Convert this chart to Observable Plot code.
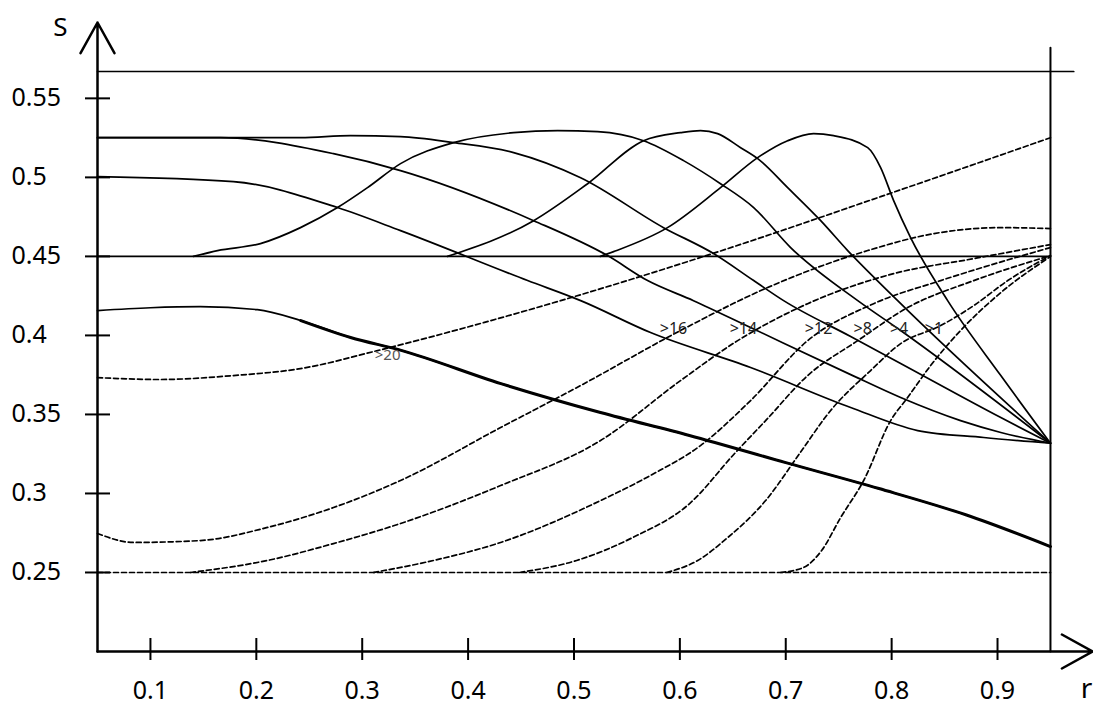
<!DOCTYPE html>
<html><head><meta charset="utf-8">
<script src="https://cdn.jsdelivr.net/npm/d3@7"></script>
<script src="https://cdn.jsdelivr.net/npm/@observablehq/plot@0.6"></script>
<style>html,body{margin:0;padding:0;background:#fff;overflow:hidden} svg{display:block}</style>
</head><body><div id="chart"></div>
<script>
// ---- axes / ticks ----
const xTicks = [0.1, 0.2, 0.3, 0.4, 0.5, 0.6, 0.7, 0.8, 0.9];
const xTickLabels = ["0.1","0.2","0.3","0.4","0.5","0.6","0.7","0.8","0.9"];
const yTicks = [0.25, 0.3, 0.35, 0.4, 0.45, 0.5, 0.55];
const yTickLabels = ["0.25","0.3","0.35","0.4","0.45","0.5","0.55"];
const xMin = 0.05, xMax = 0.9897;
const yMin = 0.2, yMax = 0.598;

// ---- solid curves ----
const topLine  = [[0.05,0.567],[0.972,0.567]];
const line045  = [[0.05,0.45],[0.95,0.45]];
const thickLine = [[0.05,0.4157],[0.10,0.4175],[0.147,0.4182],[0.201,0.4163],[0.242,0.4094],[0.289,0.3987],[0.336,0.3907],[0.431,0.3695],[0.525,0.3512],[0.609,0.3367],[0.70,0.3195],[0.788,0.3031],[0.87,0.2865],[0.95,0.2664]];
const curve050 = [[0.05,0.5005],[0.1784,0.4973],[0.2767,0.4809],[0.3362,0.4663],[0.4562,0.4347],[0.5063,0.4220],[0.5723,0.4018],[0.6668,0.3797],[0.7613,0.3544],[0.8246,0.3398],[0.887,0.3354],[0.95,0.3318]];
const curve0525a = [[0.05,0.5251],[0.1661,0.5251],[0.2729,0.5150],[0.3362,0.5043],[0.4619,0.4726],[0.5317,0.4505],[0.5695,0.4347],[0.6129,0.4220],[0.6668,0.4050],[0.7613,0.3752],[0.8085,0.3607],[0.8651,0.3461],[0.9031,0.3386],[0.95,0.3318]];
const curve0525b = [[0.05,0.5251],[0.2417,0.5251],[0.2889,0.5264],[0.3362,0.5258],[0.3863,0.5220],[0.4430,0.5157],[0.5063,0.4998],[0.5846,0.4682],[0.6318,0.4518],[0.6697,0.4347],[0.6980,0.4220],[0.7613,0.3993],[0.8085,0.3822],[0.9031,0.3480],[0.95,0.3318]];
const hump1 = [[0.1406,0.45],[0.1633,0.4537],[0.2039,0.4581],[0.2417,0.4682],[0.2767,0.4809],[0.3050,0.4935],[0.3362,0.5087],[0.3863,0.5220],[0.4430,0.5283],[0.4845,0.5296],[0.5223,0.5289],[0.5657,0.5232],[0.6035,0.5106],[0.6384,0.4960],[0.6697,0.4809],[0.7046,0.4556],[0.7680,0.4220],[0.8085,0.4031],[0.95,0.3318]];
const hump2 = [[0.3806,0.45],[0.4619,0.4726],[0.5129,0.4960],[0.5657,0.5232],[0.6006,0.5283],[0.6195,0.5296],[0.6356,0.5277],[0.6574,0.5188],[0.6735,0.5119],[0.7018,0.4935],[0.7330,0.4726],[0.7585,0.4537],[0.8057,0.4220],[0.95,0.3318]];
const hump3 = [[0.525,0.45],[0.5374,0.4530],[0.5883,0.4682],[0.6384,0.4935],[0.6735,0.5125],[0.7018,0.5232],[0.7263,0.5277],[0.7452,0.5264],[0.7774,0.5188],[0.7896,0.5062],[0.8019,0.4853],[0.8179,0.4619],[0.8529,0.4220],[0.9031,0.3746],[0.95,0.3318]];
const rightEdge = [[0.95,0.2],[0.95,0.582]];

// ---- dashed curves ----
const line025 = [[0.05,0.25],[0.95,0.25]];
const dash20 = [[0.05,0.3733],[0.1094,0.3721],[0.1784,0.3746],[0.2417,0.3790],[0.3145,0.3904],[0.4146,0.4081],[0.4874,0.4220],[0.6451,0.4549],[0.7896,0.4878],[0.95,0.5251]];
const dash16 = [[0.05,0.2747],[0.0839,0.2690],[0.1472,0.2702],[0.2105,0.2785],[0.2729,0.2911],[0.3362,0.3082],[0.4307,0.3417],[0.5063,0.3683],[0.6006,0.4031],[0.6829,0.4303],[0.7774,0.4537],[0.8397,0.4644],[0.9031,0.4682],[0.95,0.4676]];
const dash14 = [[0.1378,0.25],[0.2105,0.2576],[0.2729,0.2683],[0.3362,0.2810],[0.4307,0.3050],[0.5251,0.3335],[0.6006,0.3714],[0.6546,0.3967],[0.7207,0.4201],[0.8019,0.4391],[0.8776,0.4486],[0.95,0.4575]];
const dash12 = [[0.3107,0.25],[0.3674,0.2576],[0.4307,0.2690],[0.5251,0.2955],[0.5723,0.3114],[0.6195,0.3303],[0.6668,0.3588],[0.7207,0.3967],[0.7830,0.4201],[0.8463,0.4347],[0.95,0.4556]];
const dash8 = [[0.4487,0.25],[0.5025,0.2576],[0.5554,0.2721],[0.6092,0.2936],[0.6517,0.3253],[0.6810,0.3461],[0.7207,0.3746],[0.7680,0.3967],[0.8151,0.4176],[0.8776,0.4347],[0.95,0.4505]];
const dash4 = [[0.5876,0.25],[0.6169,0.2576],[0.6452,0.2721],[0.6810,0.2955],[0.7131,0.3253],[0.7424,0.3525],[0.7802,0.3778],[0.8085,0.3948],[0.8463,0.4062],[0.8776,0.4189],[0.9097,0.4347],[0.95,0.4505]];
const dash1 = [[0.6952,0.25],[0.7169,0.2532],[0.7339,0.2639],[0.7519,0.2848],[0.7736,0.3082],[0.7991,0.3461],[0.8151,0.3607],[0.8368,0.3809],[0.8651,0.4031],[0.9031,0.4271],[0.95,0.4499]];

// ---- curve labels ----
const labelText = [">20", ">16", ">14", ">12", ">8", ">4", ">1"];
const labelX = [0.324, 0.594, 0.660, 0.731, 0.7727, 0.807, 0.840];
const labelY = [0.3873, 0.4043, 0.4043, 0.4043, 0.4043, 0.4043, 0.4043];

// ---- build tables ----
const toRows = (obj) => Object.entries(obj).flatMap(([name, pts]) => pts.map(([x, y]) => ({name, x, y})));
const solidRows = toRows({topLine, line045, curve050, curve0525a, curve0525b, hump1, hump2, hump3, thickLine});
const thickRows = toRows({thickLine}).filter(d => d.x >= 0.24);
const edgeRows = toRows({rightEdge});
const dashRows = toRows({line025, dash20, dash16, dash14, dash12, dash8, dash4, dash1});
const labels = labelText.map((t, i) => ({t, x: labelX[i], y: labelY[i]}));

const chart = Plot.plot({
  width: 1093, height: 713,
  marginLeft: 97, marginRight: 1, marginTop: 22, marginBottom: 62,
  x: {domain: [xMin, xMax], axis: null},
  y: {domain: [yMin, yMax], axis: null},
  style: {fontFamily: "'Noto Sans', sans-serif", background: "white", color: "black"},
  marks: [
    // curves
    Plot.line(dashRows, {x: "x", y: "y", z: "name", curve: "monotone-x", stroke: "black", strokeWidth: 1.7, strokeDasharray: "5,3"}),
    Plot.line(solidRows, {x: "x", y: "y", z: "name", curve: "monotone-x", stroke: "black", strokeWidth: 1.7}),
    Plot.line(thickRows, {x: "x", y: "y", curve: "monotone-x", stroke: "black", strokeWidth: 3}),
    Plot.line(edgeRows, {x: "x", y: "y", stroke: "black", strokeWidth: 2}),
    // axes with arrows
    Plot.arrow([0], {x1: () => xMin, y1: () => yMin, x2: () => xMin, y2: () => yMax, stroke: "black", strokeWidth: 2.5, headLength: 21, headAngle: 58}),
    Plot.arrow([0], {x1: () => xMin, y1: () => yMin, x2: () => xMax, y2: () => yMin, stroke: "black", strokeWidth: 2.5, headLength: 21, headAngle: 58}),
    // ticks crossing the axes
    Plot.ruleY(yTicks, {y: d => d, x1: () => xMin, x2: () => xMin, insetLeft: -12, insetRight: -13, stroke: "black", strokeWidth: 2}),
    Plot.ruleX(xTicks, {x: d => d, y1: () => yMin, y2: () => yMin, insetTop: -13, insetBottom: -9, stroke: "black", strokeWidth: 2}),
    // tick labels
    Plot.text(yTicks, {x: () => xMin, y: d => d, text: (d, i) => yTickLabels[i], textAnchor: "start", dx: -86, fontSize: 25, fill: "black"}),
    Plot.text(xTicks, {x: d => d, y: () => yMin, text: (d, i) => xTickLabels[i], dy: 39, fontSize: 25, fill: "black"}),
    // axis titles
    Plot.text(["S"], {x: () => xMin, y: () => yMax, text: d => d, dx: -37, dy: 5, fontSize: 26, fill: "black"}),
    Plot.text(["r"], {x: () => xMax, y: () => yMin, text: d => d, dx: -6, dy: 38, fontSize: 28, fill: "black"}),
    // curve labels
    Plot.text(labels.slice(0, 1), {x: "x", y: "y", text: "t", fontSize: 15, fill: "#555"}),
    Plot.text(labels.slice(1), {x: "x", y: "y", text: "t", fontSize: 16, fill: "#222"})
  ]
});
document.getElementById("chart").append(chart);
</script>
</body></html>
